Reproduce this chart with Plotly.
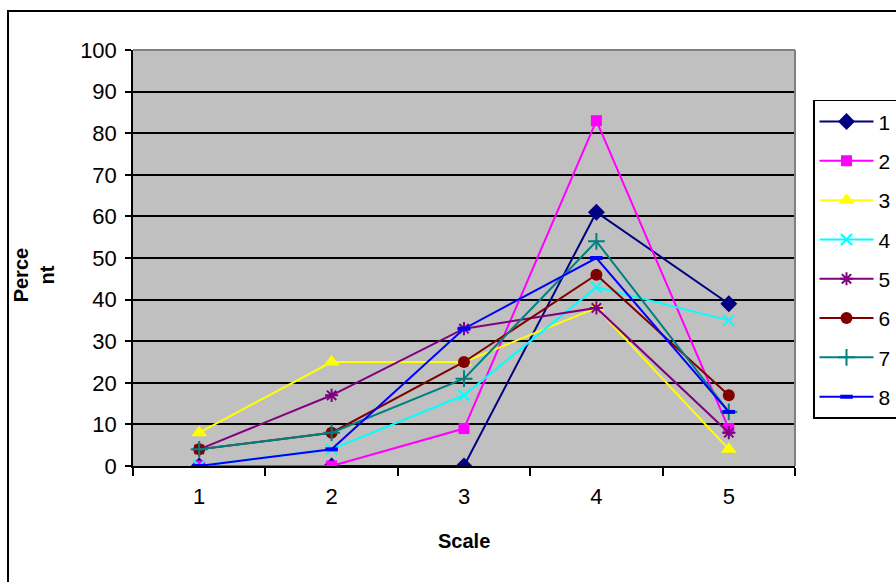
import plotly.graph_objects as go

categories = ["1", "2", "3", "4", "5"]
series_names = ["1", "2", "3", "4", "5", "6", "7", "8"]
s1 = [0, 0, 0, 61, 39]
s2 = [0, 0, 9, 83, 9]
s3 = [8, 25, 25, 38, 4]
s4 = [0, 4, 17, 43, 35]
s5 = [4, 17, 33, 38, 8]
s6 = [4, 8, 25, 46, 17]
s7 = [4, 8, 21, 54, 13]
s8 = [0, 4, 33, 50, 13]
y_ticks = [0, 10, 20, 30, 40, 50, 60, 70, 80, 90, 100]

values = [s1, s2, s3, s4, s5, s6, s7, s8]
colors = ["#000080", "#FF00FF", "#FFFF00", "#00FFFF", "#800080", "#800000", "#008080", "#0000FF"]
symbols = ["diamond", "square", "triangle-up", "x-thin", "asterisk", "circle", "cross-thin", "line-ew"]
sizes = [13, 11, 14, 11, 11, 12, 12, 9]

FONT = "Liberation Sans, Arial, sans-serif"

fig = go.Figure()
for i, (name, vals) in enumerate(zip(series_names, values)):
    sym = symbols[i]
    open_sym = sym in ("x-thin", "asterisk", "cross-thin", "line-ew")
    lw = 4 if sym == "line-ew" else 2
    fig.add_trace(go.Scatter(
        x=categories, y=vals, name=name, mode="lines+markers",
        legendgroup="g" + name,
        line=dict(color=colors[i], width=2),
        marker=dict(symbol=sym, size=sizes[i], color=colors[i],
                    line=dict(color=colors[i], width=lw if open_sym else 0)),
    ))

fig.update_layout(
    width=896, height=582,
    margin=dict(l=133, r=101, t=50, b=116, autoexpand=False),
    paper_bgcolor="white",
    plot_bgcolor="#C0C0C0",
    font=dict(family=FONT, size=22, color="black"),
    showlegend=True,
    legend=dict(
        x=1.0272, y=0.88, xanchor="left", yanchor="top",
        bordercolor="black", borderwidth=1.5, bgcolor="white",
        font=dict(family=FONT, size=21, color="black"),
        tracegroupgap=9, itemwidth=54,
    ),
    xaxis=dict(
        type="category", categoryorder="array", categoryarray=categories,
        range=[-0.5, 4.5],
        tickson="boundaries", ticks="outside", ticklen=8, tickcolor="black", tickwidth=1.5,
        showline=True, linecolor="black", linewidth=1.5,
        showgrid=False, tickfont=dict(size=22), ticklabelstandoff=10,
    ),
    yaxis=dict(
        range=[0, 100], tickvals=y_ticks, ticks="outside", ticklen=6, tickcolor="black", tickwidth=1.5,
        showline=True, linecolor="black", linewidth=1.5,
        showgrid=True, gridcolor="black", gridwidth=2, zeroline=False,
        tickfont=dict(size=22), ticklabelstandoff=4,
    ),
    shapes=[
        dict(type="rect", xref="paper", yref="paper", x0=-0.1888, x1=1.16, y0=-0.3, y1=1.0938,
             line=dict(color="black", width=2), fillcolor="rgba(0,0,0,0)", layer="below"),
        dict(type="line", xref="paper", yref="paper", x0=0, x1=1, y0=1, y1=1,
             line=dict(color="#808080", width=2)),
        dict(type="line", xref="paper", yref="paper", x0=1, x1=1, y0=0, y1=1,
             line=dict(color="#808080", width=2)),
    ],
    annotations=[
        dict(text="<b>Scale</b>", xref="paper", yref="paper", x=0.5, y=-0.18,
             showarrow=False, xanchor="center", yanchor="middle", font=dict(size=20)),
        dict(text="<b>Perce<br>nt</b>", xref="paper", yref="paper", x=-0.150, y=0.46,
             showarrow=False, xanchor="center", yanchor="middle", textangle=-90,
             font=dict(size=20)),
    ],
)

fig.write_html("out.html")
